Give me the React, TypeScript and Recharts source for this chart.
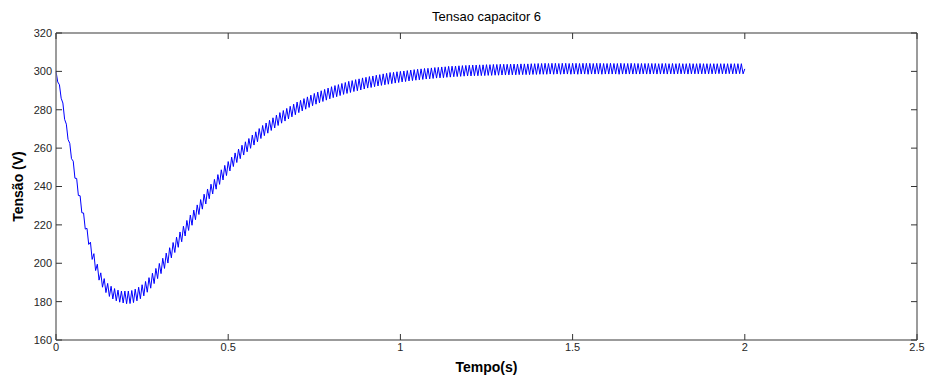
import { LineChart, Line, XAxis, YAxis, Label } from "recharts";

// sampling interval of the capacitor voltage trace (s)
const TIME_STEP = 0.005;

// capacitor 6 voltage (V), one value per TIME_STEP from t = 0 to t = 2 s
const tensao = [
  300, 294.5, 293, 286, 283.5, 275, 272.5, 264.5, 262.5, 254.5, 253.2, 244.3, 244.2, 235.3, 235.2, 226.3, 226.2, 217.8, 218.2, 209.8,
  211, 202, 205, 196.2, 199.5, 191.2, 195, 187.5, 192, 184.7, 189.5, 182.7, 188, 181.4, 186.8, 180.4, 186, 179.7, 185.5, 179.3,
  185.5, 178.9, 185.5, 179, 185.8, 179.5, 186.5, 180.4, 187.5, 181.5, 188.8, 183, 190.5, 184.9, 192.5, 187, 194.8, 189.4, 197.3, 192,
  199.9, 194.6, 202.6, 197.3, 205.3, 200.1, 208.1, 202.8, 210.8, 205.6, 213.6, 208.3, 216.3, 211.2, 219.3, 214.2, 222.3, 217.1, 225.1, 219.8,
  227.7, 222.7, 230.4, 225.4, 233.2, 228.2, 236, 230.9, 238.7, 233.6, 241.2, 236.1, 243.7, 238.6, 246.2, 241.1, 248.7, 243.4, 251, 245.7,
  253, 248.1, 255.3, 250.4, 257.5, 252.5, 259.5, 254.5, 261.5, 256.4, 263.3, 258.1, 265, 259.9, 266.8, 261.6, 268.5, 263.3, 270.2, 265,
  271.8, 266.5, 273.1, 267.8, 274.5, 269.2, 275.8, 270.5, 277.2, 271.8, 278.5, 273, 279.6, 274.1, 280.7, 275.2, 281.8, 276.3, 282.9, 277.4,
  284, 278.5, 284.9, 279.4, 285.8, 280.3, 286.7, 281.2, 287.6, 282.1, 288.5, 282.9, 289.2, 283.6, 289.9, 284.3, 290.6, 285, 291.3, 285.7,
  292, 286.3, 292.6, 286.8, 293.1, 287.4, 293.7, 288, 294.2, 288.5, 294.8, 289, 295.2, 289.5, 295.7, 289.9, 296.1, 290.3, 296.6, 290.8,
  296.9, 291.3, 297.3, 291.6, 297.6, 292, 298, 292.4, 298.3, 292.7, 298.7, 293, 299, 293.3, 299.4, 293.6, 299.5, 293.9, 299.8, 294.2,
  300, 294.5, 300.2, 294.7, 300.4, 295, 300.7, 295.2, 300.9, 295.4, 301.1, 295.6, 301.3, 295.8, 301.5, 296, 301.6, 296.1, 301.8, 296.3,
  302, 296.5, 302.1, 296.6, 302.3, 296.7, 302.4, 296.9, 302.6, 297, 302.7, 297.2, 302.8, 297.3, 302.9, 297.4, 303, 297.5, 303.1, 297.6,
  303.2, 297.6, 303.3, 297.7, 303.3, 297.7, 303.4, 297.8, 303.4, 297.8, 303.5, 297.9, 303.5, 297.9, 303.6, 298, 303.6, 298, 303.7, 298.1,
  303.7, 298.1, 303.7, 298.2, 303.8, 298.2, 303.8, 298.2, 303.8, 298.3, 303.9, 298.3, 303.9, 298.3, 303.9, 298.3, 304, 298.4, 304, 298.4,
  304.1, 298.5, 304.1, 298.5, 304.2, 298.5, 304.1, 298.6, 304.2, 298.5, 304.2, 298.6, 304.1, 298.5, 304.2, 298.6, 304.2, 298.6, 304.1, 298.5,
  304.2, 298.6, 304.2, 298.5, 304.1, 298.6, 304.2, 298.6, 304.2, 298.5, 304.2, 298.6, 304.1, 298.6, 304.2, 298.6, 304.2, 298.5, 304.1, 298.6,
  304.1, 298.6, 304.2, 298.6, 304.1, 298.6, 304.1, 298.5, 304.2, 298.6, 304.1, 298.6, 304.1, 298.6, 304.2, 298.6, 304.1, 298.6, 304.1, 298.6,
  304.1, 298.7, 304.1, 298.6, 304.1, 298.6, 304.1, 298.7, 304.1, 298.6, 304, 298.6, 304.1, 298.7, 304.1, 298.6, 304, 298.7, 304.1, 298.6,
  304, 298.7, 304.1, 298.7, 304, 298.7, 304, 298.6, 304.1, 298.7, 304, 298.7, 304, 298.7, 304.1, 298.7, 304, 298.7, 304, 298.7,
  304, 298.7, 304, 298.7, 304, 298.8, 304, 298.7, 304, 298.7, 304, 298.8, 304, 298.7, 304, 298.7, 304, 298.8, 304, 298.7,
  301.3,
];

const tempoTicks = [0, 0.5, 1, 1.5, 2, 2.5];
const tensaoTicks = [160, 180, 200, 220, 240, 260, 280, 300, 320];

const data = tensao.map((v, i) => ({ t: i * TIME_STEP, v }));

const FONT = "'Liberation Sans', Arial, Helvetica, sans-serif";
const FRAME = "#7a7a7a";
const TICK = "#333";
const TICK_LEN = 6;
const textStyle = { fontSize: 11, fill: "#262626", fontFamily: FONT };

// matlab-style ticks: short marks pointing into the plot box, labels outside
const BottomTick = ({ x, y, payload }: any) => (
  <g>
    <line x1={x} y1={y - 3} x2={x} y2={y - 3 - TICK_LEN} stroke={TICK} />
    <text x={x} y={y} dy="0.71em" textAnchor="middle" style={textStyle}>
      {payload.value}
    </text>
  </g>
);

const TopTick = ({ x, y }: any) => <line x1={x} y1={y} x2={x} y2={y + TICK_LEN} stroke={TICK} />;

const LeftTick = ({ x, y, payload }: any) => (
  <g>
    <line x1={x + 4} y1={y} x2={x + 4 + TICK_LEN} y2={y} stroke={TICK} />
    <text x={x} y={y} dy="0.355em" textAnchor="end" style={textStyle}>
      {payload.value}
    </text>
  </g>
);

const RightTick = ({ x, y }: any) => <line x1={x} y1={y} x2={x - TICK_LEN} y2={y} stroke={TICK} />;

export default function App() {
  return (
    <div style={{ position: "absolute", left: 0, top: 0, width: 928, height: 378, background: "#fff" }}>
      <LineChart width={928} height={378} data={data} margin={{ top: 32, right: 10, bottom: 0, left: 0 }}>
        <XAxis
          xAxisId="bottom"
          dataKey="t"
          type="number"
          domain={[0, 2.5]}
          ticks={tempoTicks}
          height={38}
          tickSize={0}
          tickMargin={3}
          tick={<BottomTick />}
          tickLine={false}
          axisLine={{ stroke: FRAME, strokeWidth: 1.5 }}
        >
          <Label
            value="Tempo(s)"
            position="insideBottom"
            offset={6}
            style={{ fontSize: 14, fontWeight: "bold", fill: "#000", fontFamily: FONT }}
          />
        </XAxis>
        <XAxis
          xAxisId="top"
          dataKey="t"
          type="number"
          orientation="top"
          domain={[0, 2.5]}
          ticks={tempoTicks}
          height={1}
          tickSize={0}
          tickMargin={0}
          tick={<TopTick />}
          tickLine={false}
          axisLine={{ stroke: FRAME, strokeWidth: 1.5 }}
        >
          <Label
            value="Tensao capacitor 6"
            position="top"
            offset={11}
            style={{ fontSize: 13, fill: "#000", fontFamily: FONT }}
          />
        </XAxis>
        <YAxis
          yAxisId="left"
          domain={[160, 320]}
          ticks={tensaoTicks}
          width={56}
          tickSize={0}
          tickMargin={4}
          tick={<LeftTick />}
          tickLine={false}
          axisLine={{ stroke: FRAME, strokeWidth: 1.5 }}
        >
          <Label
            content={({ viewBox }: any) => {
              const cy = viewBox.y + viewBox.height / 2;
              return (
                <text
                  x={18}
                  y={cy}
                  transform={`rotate(-90 18 ${cy})`}
                  textAnchor="middle"
                  dominantBaseline="central"
                  style={{ fontSize: 14, fontWeight: "bold", fill: "#000", fontFamily: FONT }}
                >
                  Tensão (V)
                </text>
              );
            }}
          />
        </YAxis>
        <YAxis
          yAxisId="right"
          orientation="right"
          domain={[160, 320]}
          ticks={tensaoTicks}
          width={1}
          tickSize={0}
          tickMargin={0}
          tick={<RightTick />}
          tickLine={false}
          axisLine={{ stroke: FRAME, strokeWidth: 1.5 }}
        />
        {/* carries the top/right frame axes; draws nothing */}
        <Line
          xAxisId="top"
          yAxisId="right"
          dataKey="v"
          stroke="none"
          dot={false}
          activeDot={false}
          isAnimationActive={false}
        />
        <Line
          xAxisId="bottom"
          yAxisId="left"
          dataKey="v"
          type="linear"
          stroke="#0000ff"
          strokeWidth={1}
          dot={false}
          isAnimationActive={false}
        />
      </LineChart>
    </div>
  );
}
